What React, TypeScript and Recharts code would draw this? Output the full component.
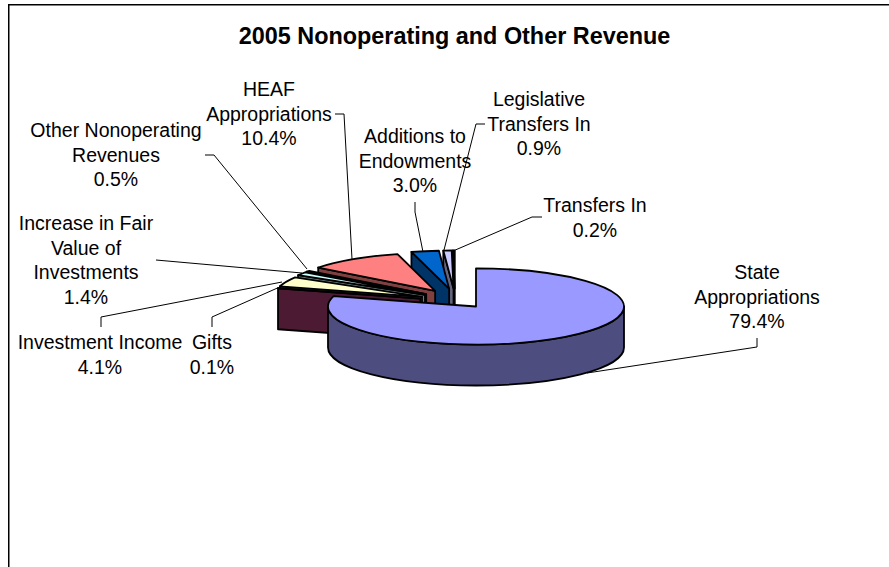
import { Cell, Pie, PieChart } from "recharts";

// listed counter-clockwise from 12 o'clock, so the back slices paint first
const CATEGORIES = [
  "Transfers In",
  "Legislative Transfers In",
  "Additions to Endowments",
  "HEAF Appropriations",
  "Other Nonoperating Revenues",
  "Increase in Fair Value of Investments",
  "Investment Income",
  "Gifts",
  "State Appropriations",
];
const VALUES = [0.2, 0.9, 3.0, 10.4, 0.5, 1.4, 4.1, 0.1, 79.4];
const COLORS = [
  "#000080",
  "#CCCCFF",
  "#0066CC",
  "#FF8080",
  "#660066",
  "#CCFFFF",
  "#FFFFCC",
  "#993366",
  "#9999FF",
];

const data = CATEGORIES.map((name, i) => ({ name, value: VALUES[i] }));

const WIDTH = 889;
const HEIGHT = 567;
const RADIUS = 148;
const SQUASH = 0.257;
const DEPTH = 41;

// layout of the data labels: wrapped lines, text anchor, leader polyline
const LABELS = [
  { lines: ["Transfers In"], x: 595, y: 212, leader: "542,217 532,217 453,251" },
  { lines: ["Legislative", "Transfers In"], x: 539, y: 106, leader: "485,124 476,124 444,250" },
  { lines: ["Additions to", "Endowments"], x: 415, y: 143, leader: "415,202 415,212 423,252" },
  { lines: ["HEAF", "Appropriations"], x: 269, y: 96, leader: "335,114 344,114 352,259" },
  { lines: ["Other Nonoperating", "Revenues"], x: 116, y: 137, leader: "205,155 214,155 307,269" },
  { lines: ["Increase in Fair", "Value of", "Investments"], x: 86, y: 230, leader: "156,260 302,273" },
  { lines: ["Investment Income"], x: 100, y: 349, leader: "101,327 101,317 282,282" },
  { lines: ["Gifts"], x: 212, y: 349, leader: "212,327 212,317 282,286" },
  { lines: ["State", "Appropriations"], x: 757, y: 279, leader: "757,338 757,347 587,373" },
];

const LINE_HEIGHT = 24.5;
const FONT = "'Liberation Sans', Arial, sans-serif";

function darken(hex: string) {
  const n = parseInt(hex.slice(1), 16);
  const half = (v: number) => Math.round(v / 2);
  return `rgb(${half((n >> 16) & 255)},${half((n >> 8) & 255)},${half(n & 255)})`;
}

function Slice3D(props: any) {
  const { cx, cy, outerRadius, startAngle, endAngle, fill } = props;
  // clockwise degrees from 12 o'clock
  const a = 450 - endAngle;
  const b = 450 - startAngle;
  const from = ((a % 360) + 360) % 360;
  const to = from + (b - a);
  const mid = ((from + to) / 2) * (Math.PI / 180);

  // everything but the big slice is pulled out
  const exploded = endAngle - startAngle < 180;
  const ox = cx + (exploded ? -21 + 36 * Math.sin(mid) : 0);
  const oy = cy + (exploded ? -4 - 14 * Math.cos(mid) : 0);

  const pt = (deg: number) => {
    const r = (deg * Math.PI) / 180;
    return [ox + outerRadius * Math.sin(r), oy - outerRadius * SQUASH * Math.cos(r)];
  };
  const rx = outerRadius;
  const ry = outerRadius * SQUASH;

  const [sx, sy] = pt(from);
  const [ex, ey] = pt(to);
  const large = to - from > 180 ? 1 : 0;
  const top = `M${ox},${oy} L${sx},${sy} A${rx},${ry} 0 ${large} 1 ${ex},${ey} Z`;

  const walls: string[] = [];
  const wallFill = darken(fill);

  // radial wall on the clockwise-first side when it faces the viewer
  if (Math.sin((from * Math.PI) / 180) < -0.001) {
    walls.push(`M${ox},${oy} L${sx},${sy} L${sx},${sy + DEPTH} L${ox},${oy + DEPTH} Z`);
  }
  if (Math.sin((to * Math.PI) / 180) > 0.001) {
    walls.push(`M${ox},${oy} L${ex},${ey} L${ex},${ey + DEPTH} L${ox},${oy + DEPTH} Z`);
  }
  // outer rim, only the front half of the ellipse shows
  const rimFrom = Math.max(from, 90);
  const rimTo = Math.min(to, 270);
  if (rimTo > rimFrom) {
    const [x1, y1] = pt(rimFrom);
    const [x2, y2] = pt(rimTo);
    walls.push(
      `M${x1},${y1} A${rx},${ry} 0 0 1 ${x2},${y2} L${x2},${y2 + DEPTH} A${rx},${ry} 0 0 0 ${x1},${y1 + DEPTH} Z`
    );
  }

  return (
    <g>
      {walls.map((d, i) => (
        <path key={i} d={d} fill={wallFill} stroke="#000" strokeWidth={1.8} strokeLinejoin="round" />
      ))}
      <path d={top} fill={fill} stroke="#000" strokeWidth={1.8} strokeLinejoin="round" />
    </g>
  );
}

function SliceLabel(props: any) {
  const layout = LABELS[props.index];
  const rows = [...layout.lines, `${VALUES[props.index].toFixed(1)}%`];
  return (
    <g>
      <polyline points={layout.leader} fill="none" stroke="#000" strokeWidth={1} />
      <text
        x={layout.x}
        y={layout.y}
        textAnchor="middle"
        fontFamily={FONT}
        fontSize={19.5}
        fill="#000"
      >
        {rows.map((row, i) => (
          <tspan key={i} x={layout.x} y={layout.y + i * LINE_HEIGHT}>
            {row}
          </tspan>
        ))}
      </text>
    </g>
  );
}

export default function App() {
  return (
    <div style={{ position: "absolute", left: 0, top: 0, width: WIDTH, height: HEIGHT, background: "#fff", overflow: "hidden" }}>
      <PieChart width={WIDTH} height={HEIGHT} margin={{ top: 0, right: 0, bottom: 0, left: 0 }}>
        <rect x={8.75} y={4.75} width={WIDTH} height={HEIGHT} fill="#fff" stroke="#000" strokeWidth={1.5} />
        <text x={454.5} y={44} textAnchor="middle" fontFamily={FONT} fontSize={23.4} fontWeight="bold" fill="#000">
          2005 Nonoperating and Other Revenue
        </text>
        <Pie
          data={data}
          dataKey="value"
          nameKey="name"
          cx={476}
          cy={306.5}
          outerRadius={RADIUS}
          startAngle={90}
          endAngle={450}
          stroke="none"
          shape={Slice3D}
          label={SliceLabel}
          labelLine={false}
          isAnimationActive={false}
        >
          {data.map((entry, i) => (
            <Cell key={entry.name} fill={COLORS[i]} />
          ))}
        </Pie>
      </PieChart>
    </div>
  );
}
